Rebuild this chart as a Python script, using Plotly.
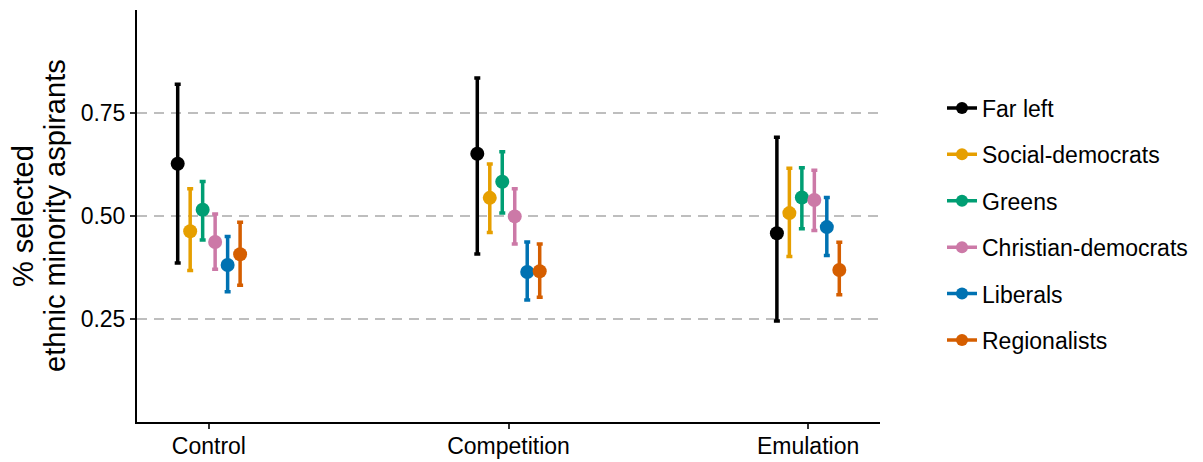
import plotly.graph_objects as go

conditions = ["Control", "Competition", "Emulation"]
parties = ["Far left", "Social-democrats", "Greens", "Christian-democrats", "Liberals", "Regionalists"]
colors = ["#000000", "#E69F00", "#009E73", "#CC79A7", "#0072B2", "#D55E00"]

# estimates, lower and upper bounds per party, ordered by conditions
est = {
    "Far left":            [0.627, 0.651, 0.458],
    "Social-democrats":    [0.463, 0.544, 0.507],
    "Greens":              [0.515, 0.583, 0.545],
    "Christian-democrats": [0.437, 0.499, 0.539],
    "Liberals":            [0.381, 0.364, 0.473],
    "Regionalists":        [0.407, 0.366, 0.369],
}
lower = {
    "Far left":            [0.386, 0.408, 0.245],
    "Social-democrats":    [0.368, 0.460, 0.402],
    "Greens":              [0.442, 0.507, 0.469],
    "Christian-democrats": [0.371, 0.432, 0.465],
    "Liberals":            [0.316, 0.296, 0.404],
    "Regionalists":        [0.332, 0.303, 0.309],
}
upper = {
    "Far left":            [0.820, 0.835, 0.691],
    "Social-democrats":    [0.566, 0.626, 0.616],
    "Greens":              [0.584, 0.656, 0.617],
    "Christian-democrats": [0.505, 0.566, 0.611],
    "Liberals":            [0.450, 0.437, 0.545],
    "Regionalists":        [0.485, 0.432, 0.436],
}
y_ticks = [0.25, 0.50, 0.75]
y_tick_labels = ["0.25", "0.50", "0.75"]
y_title_lines = ["% selected", "ethnic minority aspirants"]

dodge = 0.25
n = len(parties)
FONT = "Liberation Sans, Arial, sans-serif"
W, H = 1203, 462

fig = go.Figure()
for i, (p, c) in enumerate(zip(parties, colors)):
    off = (i - (n - 1) / 2) * dodge / n
    xs = [k + 1 + off for k in range(len(conditions))]
    ys = est[p]
    plus = [u - y for u, y in zip(upper[p], ys)]
    minus = [y - l for l, y in zip(lower[p], ys)]
    fig.add_trace(go.Scatter(
        x=xs, y=ys, mode="markers",
        marker=dict(color=c, size=14),
        error_y=dict(type="data", symmetric=False, array=plus, arrayminus=minus,
                     color=c, thickness=3.5, width=3),
        showlegend=False, hoverinfo="skip",
    ))
    fig.add_trace(go.Scatter(
        x=[None], y=[None], mode="lines+markers", name=p,
        line=dict(color=c, width=3.5), marker=dict(color=c, size=12),
        legendgroup=p, showlegend=True,
    ))

# y-axis title as two stacked rotated lines
for j, (txt, xpx) in enumerate(zip(y_title_lines, [15, 47])):
    fig.add_annotation(
        text=txt, xref="paper", yref="paper",
        x=(xpx - 129) / (W - 129 - 331), y=0.5, xanchor="center", yanchor="middle",
        textangle=-90, showarrow=False, font=dict(size=29, color="black", family=FONT),
    )

fig.update_layout(
    width=W, height=H,
    margin=dict(l=129, r=331, t=2, b=48, autoexpand=False),
    paper_bgcolor="white", plot_bgcolor="white",
    font=dict(family=FONT, size=23, color="black"),
    showlegend=True,
    legend=dict(
        xref="container", yref="container",
        x=934 / W, xanchor="left", y=1 - 216 / H, yanchor="middle",
        font=dict(size=23, color="black"),
        tracegroupgap=13.5, traceorder="grouped",
        bgcolor="rgba(0,0,0,0)", maxheight=440,
    ),
    xaxis=dict(
        range=[0.76, 3.24], tickmode="array", tickvals=[1, 2, 3], ticktext=conditions,
        showgrid=False, zeroline=False, showline=True, linecolor="black", linewidth=2,
        ticks="outside", ticklen=5, tickwidth=2, tickcolor="#333333",
        tickfont=dict(size=23, color="black"), automargin=False,
        ticklabelstandoff=-3,
    ),
    yaxis=dict(
        range=[0, 1.0], tickmode="array", tickvals=y_ticks, ticktext=y_tick_labels,
        showgrid=True, gridcolor="#BEBEBE", gridwidth=2, griddash="10px,7px",
        zeroline=False, showline=True, linecolor="black", linewidth=2,
        ticks="outside", ticklen=5, tickwidth=2, tickcolor="#333333",
        tickfont=dict(size=23, color="black"), automargin=False,
    ),
)

fig.write_html("out.html")
